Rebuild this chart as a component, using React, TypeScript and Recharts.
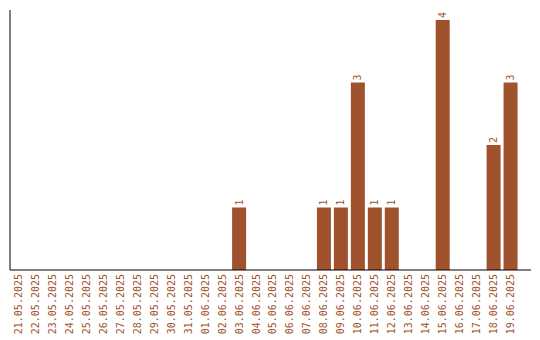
import { FC } from "react";
import { BarChart, Bar, XAxis, YAxis, LabelList } from "recharts";

const dates = [
  "21.05.2025", "22.05.2025", "23.05.2025", "24.05.2025", "25.05.2025",
  "26.05.2025", "27.05.2025", "28.05.2025", "29.05.2025", "30.05.2025",
  "31.05.2025", "01.06.2025", "02.06.2025", "03.06.2025", "04.06.2025",
  "05.06.2025", "06.06.2025", "07.06.2025", "08.06.2025", "09.06.2025",
  "10.06.2025", "11.06.2025", "12.06.2025", "13.06.2025", "14.06.2025",
  "15.06.2025", "16.06.2025", "17.06.2025", "18.06.2025", "19.06.2025",
];

const counts = [
  0, 0, 0, 0, 0, 0, 0, 0, 0, 0,
  0, 0, 0, 1, 0, 0, 0, 0, 1, 1,
  3, 1, 1, 0, 0, 4, 0, 0, 2, 3,
];

const data = dates.map((date, i) => ({ date, count: counts[i] }));

const COLOR = "#A0522D";
const FONT = "'DejaVu Sans Mono', monospace";

const DateTick: FC<any> = ({ x, y, payload }) => (
  <text
    x={x}
    y={y}
    transform={`rotate(-90, ${x}, ${y})`}
    textAnchor="end"
    dy="0.35em"
    fill={COLOR}
    fontSize={10}
    fontFamily={FONT}
  >
    {payload.value}
  </text>
);

const ValueLabel: FC<any> = ({ x, y, width, value }) => {
  if (!value) return null;
  const cx = x + width / 2;
  const cy = y - 2;
  return (
    <text
      x={cx}
      y={cy}
      transform={`rotate(-90, ${cx}, ${cy})`}
      textAnchor="start"
      dy="0.35em"
      fill={COLOR}
      fontSize={10}
      fontFamily={FONT}
    >
      {value}
    </text>
  );
};

const App: FC = () => {
  return (
    <div style={{ position: "absolute", left: 0, top: 0 }}>
      <BarChart
        width={540}
        height={340}
        data={data}
        margin={{ top: 10, right: 9, bottom: 0, left: 9 }}
        barCategoryGap="9%"
      >
        <XAxis
          dataKey="date"
          interval={0}
          height={70}
          tickLine={false}
          tickSize={4}
          tickMargin={0}
          axisLine={{ stroke: "#000" }}
          padding={{ left: 0, right: 12 }}
          tick={<DateTick />}
        />
        <YAxis
          width={1}
          domain={[0, 4.16]}
          tick={false}
          tickLine={false}
          axisLine={{ stroke: "#000" }}
        />
        <Bar dataKey="count" fill={COLOR} isAnimationActive={false}>
          <LabelList dataKey="count" content={<ValueLabel />} />
        </Bar>
      </BarChart>
    </div>
  );
};

export default App;
